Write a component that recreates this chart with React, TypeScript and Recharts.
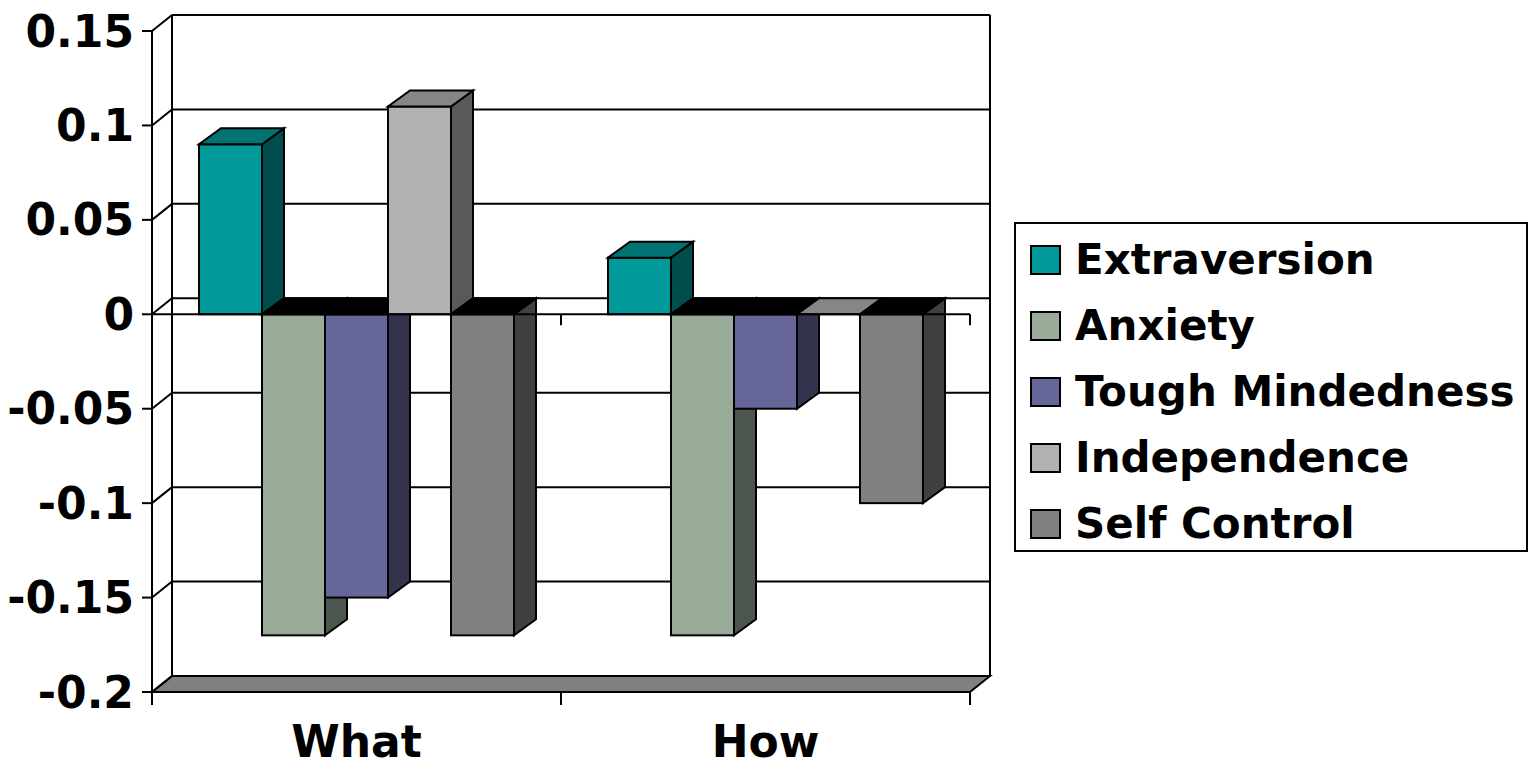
import { BarChart, Bar, XAxis, YAxis, CartesianGrid, ReferenceLine, Legend } from 'recharts';

const categories = ['What', 'How'];
const extraversion = [0.09, 0.03];
const anxiety = [-0.17, -0.17];
const toughMindedness = [-0.15, -0.05];
const independence = [0.11, 0];
const selfControl = [-0.17, -0.1];
const yTicks = [-0.2, -0.15, -0.1, -0.05, 0, 0.05, 0.1, 0.15];

const SERIES = [
  { key: 'extraversion', name: 'Extraversion', values: extraversion, front: '#009999', top: '#007373', side: '#004D4D' },
  { key: 'anxiety', name: 'Anxiety', values: anxiety, front: '#9AAB99', top: '#748073', side: '#4D564D' },
  { key: 'tough', name: 'Tough Mindedness', values: toughMindedness, front: '#666699', top: '#4D4D73', side: '#33334D' },
  { key: 'independence', name: 'Independence', values: independence, front: '#B2B2B2', top: '#868686', side: '#595959' },
  { key: 'selfControl', name: 'Self Control', values: selfControl, front: '#808080', top: '#606060', side: '#404040' },
];

const data = categories.map((cat, i) => {
  const row: Record<string, string | number> = { cat };
  SERIES.forEach((s) => {
    row[s.key] = s.values[i];
  });
  return row;
});

const FONT = "'DejaVu Sans', Verdana, sans-serif";
// oblique offsets for the back wall and for the column depth
const WALL_DX = 20;
const WALL_DY = -16;
const BAR_DX = 22;
const BAR_DY = -16;
const X_TICK_SIZE = 13;
const X_TICK_MARGIN = 21;

const edge = { stroke: '#000', strokeWidth: 2, strokeLinejoin: 'miter' as const };

const pts = (list: number[][]) => list.map((p) => p.join(',')).join(' ');

// 3D column: front face, right side face and cap at the upper end
function prism(s: (typeof SERIES)[number]) {
  return (props: any) => {
    const { x, y, width, height, payload } = props;
    const v = Number(payload[s.key]);
    const top = Math.min(y, y + height);
    const bottom = Math.max(y, y + height);
    const w = width;
    // negative columns show a black cap on the zero plane
    const capFill = v < 0 ? '#000' : s.top;
    const cap = (
      <polygon
        points={pts([
          [x, top],
          [x + w, top],
          [x + w + BAR_DX, top + BAR_DY],
          [x + BAR_DX, top + BAR_DY],
        ])}
        fill={capFill}
        {...edge}
      />
    );
    if (v === 0) return <g>{cap}</g>;
    return (
      <g>
        <rect x={x} y={top} width={w} height={bottom - top} fill={s.front} {...edge} />
        <polygon
          points={pts([
            [x + w, top],
            [x + w + BAR_DX, top + BAR_DY],
            [x + w + BAR_DX, bottom + BAR_DY],
            [x + w, bottom],
          ])}
          fill={s.side}
          {...edge}
        />
        {cap}
      </g>
    );
  };
}

// back wall gridlines, left wall diagonals and the floor
const wallLine = (p: any) => {
  const isFloor =
    p.y != null && p.height != null ? Math.abs(p.y1 - (p.y + p.height)) < 1 : p.index === 0;
  return (
    <g key={`h-${p.index}`}>
      {isFloor && (
        <polygon
          points={pts([
            [p.x1, p.y1],
            [p.x2, p.y1],
            [p.x2 + WALL_DX, p.y1 + WALL_DY],
            [p.x1 + WALL_DX, p.y1 + WALL_DY],
          ])}
          fill="#808080"
          {...edge}
        />
      )}
      <line x1={p.x1} y1={p.y1} x2={p.x1 + WALL_DX} y2={p.y1 + WALL_DY} {...edge} />
      <line x1={p.x1 + WALL_DX} y1={p.y1 + WALL_DY} x2={p.x2 + WALL_DX} y2={p.y2 + WALL_DY} {...edge} />
    </g>
  );
};

const wallEdge = (p: any) => (
  <line
    key={`v-${p.index}`}
    x1={p.x1 + WALL_DX}
    y1={p.y1 + WALL_DY}
    x2={p.x2 + WALL_DX}
    y2={p.y2 + WALL_DY}
    {...edge}
  />
);

// category axis line along the zero plane, ticked at the group boundaries
const zeroAxis = (p: any) => {
  const mid = (p.x1 + p.x2) / 2;
  return (
    <g>
      <line x1={p.x1} y1={p.y1} x2={p.x2} y2={p.y2} {...edge} />
      <line x1={mid} y1={p.y1} x2={mid} y2={p.y1 + 11} {...edge} />
      <line x1={p.x2} y1={p.y1} x2={p.x2} y2={p.y1 + 11} {...edge} />
    </g>
  );
};

function CategoryTick(props: any) {
  const { x, y, payload, index, visibleTicksCount } = props;
  const half = payload.offset ?? 204.5;
  const axisY = y - X_TICK_SIZE - X_TICK_MARGIN;
  return (
    <g>
      <line x1={x - half} y1={axisY} x2={x - half} y2={axisY + X_TICK_SIZE} {...edge} />
      {index === visibleTicksCount - 1 && (
        <line x1={x + half} y1={axisY} x2={x + half} y2={axisY + X_TICK_SIZE} {...edge} />
      )}
      <text
        x={x}
        y={y}
        dy="0.71em"
        textAnchor="middle"
        fill="#000"
        fontSize={44}
        fontWeight={700}
        fontFamily={FONT}
      >
        {payload.value}
      </text>
    </g>
  );
}

// legend entries kept in series order
function LegendBox({ payload }: any) {
  const order = SERIES.map((s) => s.name);
  const items = [...(payload || [])].sort(
    (a: any, b: any) => order.indexOf(a.value) - order.indexOf(b.value),
  );
  return (
    <div
      style={{
        boxSizing: 'border-box',
        width: 514,
        height: 330,
        border: '2px solid #000',
        background: '#fff',
        padding: '3px 0 0 14px',
        fontFamily: FONT,
        fontWeight: 700,
        fontSize: 42,
        color: '#000',
        textAlign: 'left',
      }}
    >
      {items.map((entry: any) => (
        <div key={entry.value} style={{ display: 'flex', alignItems: 'center', height: 66 }}>
          <span
            style={{
              boxSizing: 'border-box',
              width: 31,
              height: 30,
              border: '2px solid #000',
              background: entry.color,
              flex: 'none',
            }}
          />
          <span style={{ marginLeft: 14, lineHeight: '66px', whiteSpace: 'nowrap' }}>{entry.value}</span>
        </div>
      ))}
    </div>
  );
}

export default function App() {
  return (
    <div style={{ position: 'absolute', left: 0, top: 0, width: 1538, height: 768, background: '#fff' }}>
      <BarChart
        width={1538}
        height={768}
        data={data}
        margin={{ top: 31, right: 568, bottom: 0, left: 0 }}
        barGap={0}
        barSize={63}
      >
        <CartesianGrid
          horizontal={wallLine}
          vertical={wallEdge}
          verticalCoordinatesGenerator={({ offset }: any) => [offset.left, offset.left + offset.width]}
        />
        <XAxis
          dataKey="cat"
          height={76}
          interval={0}
          axisLine={{ stroke: '#000', strokeWidth: 2 }}
          tickLine={false}
          tickSize={X_TICK_SIZE}
          tickMargin={X_TICK_MARGIN}
          tick={<CategoryTick />}
        />
        <YAxis
          width={152}
          type="number"
          domain={[-0.2, 0.15]}
          ticks={yTicks}
          interval={0}
          tickFormatter={(v: number) => String(v)}
          axisLine={{ stroke: '#000', strokeWidth: 2 }}
          tickLine={{ stroke: '#000', strokeWidth: 2 }}
          tickSize={10}
          tickMargin={8}
          tick={{ fill: '#000', fontSize: 44, fontWeight: 700, fontFamily: FONT }}
        />
        <ReferenceLine y={0} shape={zeroAxis} />
        {SERIES.map((s) => (
          <Bar
            key={s.key}
            dataKey={s.key}
            name={s.name}
            fill={s.front}
            shape={prism(s)}
            isAnimationActive={false}
          />
        ))}
        <Legend
          layout="vertical"
          align="center"
          verticalAlign="middle"
          content={<LegendBox />}
          wrapperStyle={{ left: 1014, top: 222, width: 514 }}
        />
      </BarChart>
    </div>
  );
}
